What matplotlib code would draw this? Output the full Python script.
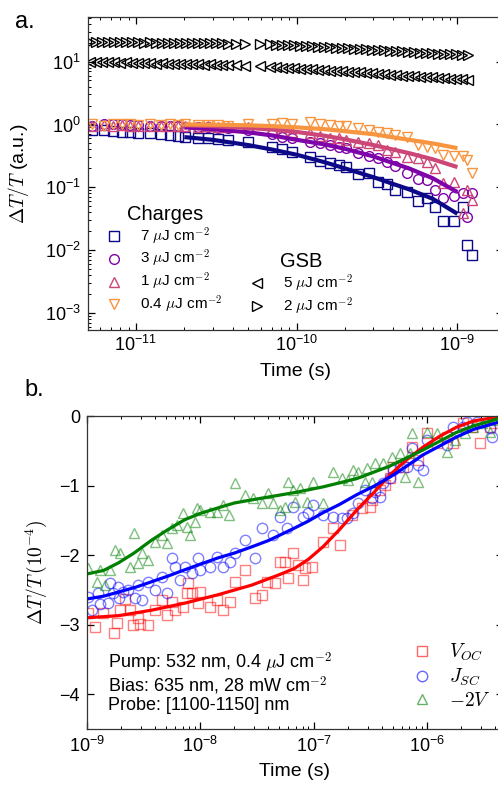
import matplotlib
matplotlib.use("Agg")
import matplotlib.pyplot as plt
from matplotlib.lines import Line2D
from matplotlib.ticker import NullFormatter

plt.rcParams['font.family'] = ['Liberation Sans', 'DejaVu Sans']
plt.rcParams['mathtext.fontset'] = 'custom'
plt.rcParams['mathtext.rm'] = 'Liberation Sans'
plt.rcParams['mathtext.it'] = 'Liberation Sans:italic'
plt.rcParams['mathtext.bf'] = 'Liberation Sans:bold'

# ---------------- panel a: charges (common time grid) ----------------
t_ch = [5.3e-12, 6.3e-12, 7.2e-12, 8.2e-12, 9.2e-12, 1.03e-11, 1.22e-11, 1.43e-11,
        1.63e-11, 1.83e-11, 2.02e-11, 2.43e-11, 2.81e-11, 3.24e-11, 3.74e-11, 4.98e-11,
        7.0e-11, 8.1e-11, 9.4e-11, 1.21e-10, 1.40e-10, 1.61e-10, 1.83e-10, 2.03e-10,
        2.41e-10, 2.82e-10, 3.21e-10, 3.65e-10, 4.09e-10, 4.86e-10, 5.69e-10, 6.47e-10,
        7.26e-10, 8.13e-10, 9.5e-10, 1.08e-9, 1.15e-9, 1.23e-9]
ch_7 = [0.81, 0.81, 0.785, 0.77, 0.76, 0.73, 0.73, 0.70, 0.68, 0.66, 0.63, 0.61, 0.61,
        0.59, 0.56, 0.53, 0.44, 0.41, 0.365, 0.30, 0.26, 0.24, 0.225, 0.21, 0.163, 0.17,
        0.12, 0.113, 0.09, 0.084, 0.06, 0.068, 0.049, 0.029, 0.029, 0.049, 0.012, 0.0083]
ch_3 = [0.93, 1.0, 1.02, 1.0, 0.98, 0.97, 0.96, 0.95, 0.94, 0.93, 0.92, 0.91, 0.90,
        0.88, 0.87, 0.82, 0.70, 0.64, 0.62, 0.525, 0.51, 0.47, 0.44, 0.43, 0.35, 0.31,
        0.29, 0.25, 0.22, 0.17, 0.135, 0.13, 0.09, 0.068, 0.073, 0.08, 0.034, 0.08]
ch_1 = [0.95, 0.97, 0.96, 0.98, 0.95, 0.96, 0.95, 0.94, 0.95, 0.93, 0.94, 0.92, 0.93,
        0.91, 0.92, 0.90, 0.85, 0.80, 0.77, 0.72, 0.66, 0.62, 0.60, 0.565, 0.525, 0.51,
        0.47, 0.39, 0.36, 0.30, 0.29, 0.25, 0.20, 0.117, 0.12, 0.039, 0.09, 0.063]
ch_04 = [1.0, 0.95, 1.02, 1.0, 1.03, 0.98, 1.0, 0.98, 1.0, 0.97, 1.0, 0.98, 0.97,
         0.98, 0.96, 1.0, 1.02, 1.05, 1.0, 1.1, 1.02, 0.98, 0.95, 0.93, 0.87, 0.81,
         0.76, 0.72, 0.68, 0.63, 0.47, 0.44, 0.42, 0.33, 0.31, 0.32, 0.27, 0.17]

# fits
t_fit_a = [2.0e-11, 3.0e-11, 5.0e-11, 7.0e-11, 1.0e-10, 1.5e-10, 2.0e-10, 3.0e-10,
           5.0e-10, 7.0e-10, 1.0e-9]
fit_7 = [0.63, 0.57, 0.47, 0.40, 0.33, 0.25, 0.20, 0.145, 0.093, 0.066, 0.038]
fit_3 = [0.90, 0.84, 0.75, 0.67, 0.57, 0.48, 0.41, 0.31, 0.20, 0.14, 0.084]
fit_1 = [0.97, 0.94, 0.88, 0.83, 0.76, 0.66, 0.58, 0.47, 0.35, 0.28, 0.21]
fit_04 = [1.00, 0.99, 0.97, 0.94, 0.90, 0.84, 0.78, 0.70, 0.57, 0.50, 0.42]

# GSB
t_gsb = [5.18e-12, 5.64e-12, 6.14e-12, 6.69e-12, 7.29e-12, 7.95e-12, 8.66e-12, 9.44e-12,
         1.03e-11, 1.12e-11, 1.22e-11, 1.33e-11, 1.45e-11, 1.58e-11, 1.72e-11, 1.88e-11,
         2.05e-11, 2.23e-11, 2.43e-11, 2.65e-11, 2.89e-11, 3.15e-11, 3.43e-11, 3.74e-11,
         4.19e-11, 4.77e-11, 5.91e-11,
         6.83e-11, 7.44e-11, 8.11e-11, 8.83e-11, 9.62e-11, 1.05e-10, 1.14e-10, 1.24e-10,
         1.36e-10, 1.48e-10, 1.61e-10, 1.76e-10, 1.91e-10, 2.08e-10, 2.27e-10, 2.48e-10,
         2.70e-10, 2.94e-10, 3.21e-10, 3.49e-10, 3.81e-10, 4.15e-10, 4.52e-10, 4.93e-10,
         5.37e-10, 5.85e-10, 6.38e-10, 6.95e-10, 7.57e-10, 8.25e-10, 8.99e-10, 9.80e-10,
         1.07e-9, 1.16e-9]
gsb_2 = [20.5, 20.4, 20.5, 20.3, 20.4, 20.2, 20.3, 20.1, 20.2, 20.0, 20.1, 19.9, 20.0,
         19.8, 19.9, 19.7, 19.8, 19.6, 19.7, 19.5, 19.6, 19.4, 19.5, 19.3,
         19.3, 19.2, 19.0,
         18.8, 18.6, 18.4, 18.2, 18.0, 17.8, 17.6, 17.4, 17.2, 17.0, 16.8, 16.6, 16.4,
         16.2, 16.0, 15.8, 15.6, 15.4, 15.2, 15.0, 14.8, 14.6, 14.5, 14.3, 14.1, 13.9,
         13.7, 13.6, 13.4, 13.3, 13.1, 13.0, 12.9, 12.7]
gsb_5 = [9.9, 9.8, 9.9, 9.7, 9.8, 9.6, 9.7, 9.5, 9.6, 9.4, 9.5, 9.3, 9.4, 9.2, 9.3,
         9.1, 9.2, 9.0, 9.1, 8.9, 9.0, 8.9, 8.9, 8.8,
         8.7, 8.6, 8.5,
         8.3, 8.2, 8.0, 7.9, 7.8, 7.7, 7.6, 7.5, 7.4, 7.3, 7.2, 7.1, 7.0, 6.9, 6.8, 6.7,
         6.6, 6.5, 6.4, 6.3, 6.2, 6.1, 6.0, 5.9, 5.8, 5.75, 5.65, 5.6, 5.5, 5.45, 5.35,
         5.3, 5.2, 5.1]

# ---------------- panel b ----------------
r_t = [1.02e-9, 1.18e-9, 1.38e-9, 1.72e-9, 1.84e-9, 1.95e-9, 2.17e-9, 2.40e-9, 2.55e-9,
       2.82e-9, 2.93e-9, 3.45e-9, 3.98e-9, 4.59e-9, 5.08e-9, 5.62e-9, 5.98e-9, 7.03e-9,
       7.63e-9, 7.79e-9, 8.43e-9, 9.53e-9, 9.93e-9, 1.22e-8, 1.40e-8, 1.58e-8, 1.82e-8,
       2.02e-8, 2.48e-8, 3.03e-8, 3.51e-8, 3.86e-8, 4.53e-8, 5.05e-8, 5.60e-8, 5.94e-8,
       6.58e-8, 7.27e-8, 8.06e-8, 8.41e-8, 9.7e-8, 1.21e-7, 1.48e-7, 1.71e-7, 2.18e-7,
       2.68e-7, 3.16e-7, 3.28e-7, 3.85e-7, 4.26e-7, 4.70e-7, 5.02e-7, 6.16e-7, 7.39e-7,
       8.34e-7, 1.00e-6, 1.23e-6, 1.50e-6, 1.70e-6, 2.09e-6, 2.51e-6, 2.95e-6, 3.60e-6,
       3.95e-6]
r_v = [-2.83, -3.03, -2.83, -3.12, -2.97, -2.79, -2.63, -2.79, -3.00, -2.90, -2.99,
       -3.00, -2.79, -2.64, -2.86, -2.67, -2.79, -2.74, -2.54, -2.40, -2.54, -2.69,
       -2.53, -2.74, -2.64, -2.79, -2.67, -2.39, -2.21, -2.61, -2.57, -2.39, -2.40,
       -2.10, -2.10, -2.33, -1.97, -2.14, -2.36, -2.18, -2.17, -1.81, -1.61, -1.85,
       -1.42, -1.32, -1.31, -1.21, -1.06, -0.99, -0.89, -0.73, -0.73, -0.45, -0.63,
       -0.24, -0.39, -0.30, -0.39, -0.10, -0.16, -0.39, -0.16, -0.10]

b_t = [1.02e-9, 1.11e-9, 1.25e-9, 1.30e-9, 1.53e-9, 1.60e-9, 1.70e-9, 1.88e-9, 1.93e-9,
       2.08e-9, 2.30e-9, 2.65e-9, 2.82e-9, 3.06e-9, 3.45e-9, 3.98e-9, 4.59e-9, 5.08e-9,
       5.62e-9, 5.98e-9, 6.62e-9, 7.33e-9, 8.43e-9, 9.53e-9, 9.93e-9, 1.22e-8, 1.40e-8,
       1.58e-8, 1.82e-8, 2.02e-8, 2.48e-8, 3.03e-8, 3.51e-8, 4.38e-8, 5.05e-8, 5.82e-8,
       6.58e-8, 8.06e-8, 8.93e-8, 9.89e-8, 1.21e-7, 1.48e-7, 1.78e-7, 1.97e-7, 2.23e-7,
       2.47e-7, 2.84e-7, 3.28e-7, 3.48e-7, 3.85e-7, 4.10e-7, 4.70e-7, 5.02e-7, 5.79e-7,
       6.68e-7, 7.39e-7, 8.34e-7, 9.24e-7, 1.00e-6, 1.50e-6, 1.70e-6, 2.09e-6, 2.26e-6,
       2.77e-6, 3.60e-6, 3.75e-6]
b_v = [-2.60, -2.79, -2.54, -2.70, -2.69, -2.40, -2.54, -2.46, -2.61, -2.53, -2.50,
       -2.61, -2.43, -2.64, -2.39, -2.50, -2.31, -2.54, -2.04, -2.17, -2.36, -2.17,
       -2.26, -2.04, -2.21, -2.17, -2.03, -2.17, -2.10, -1.97, -1.78, -2.04, -1.61,
       -1.71, -1.45, -1.61, -1.31, -1.45, -1.39, -1.28, -1.42, -1.45, -1.47, -1.47,
       -1.39, -1.25, -1.06, -1.18, -1.09, -1.16, -0.96, -0.89, -0.78, -0.73, -0.73,
       -0.46, -0.70, -0.78, -0.34, -0.42, -0.16, -0.16, -0.09, -0.09, -0.17, -0.30]

g_t = [1.02e-9, 1.22e-9, 1.30e-9, 1.44e-9, 1.60e-9, 1.77e-9, 1.95e-9, 2.40e-9, 2.60e-9,
       2.82e-9, 3.06e-9, 3.45e-9, 3.98e-9, 4.59e-9, 5.08e-9, 5.62e-9, 6.22e-9, 7.03e-9,
       7.63e-9, 8.11e-9, 8.98e-9, 9.35e-9, 9.93e-9, 1.22e-8, 1.40e-8, 1.58e-8, 1.79e-8,
       2.02e-8, 2.48e-8, 2.92e-8, 3.51e-8, 3.96e-8, 4.38e-8, 5.05e-8, 5.60e-8, 5.94e-8,
       6.58e-8, 6.9e-8, 7.59e-8, 8.75e-8, 9.89e-8, 1.21e-7, 1.48e-7, 1.78e-7, 2.01e-7,
       2.23e-7, 2.47e-7, 2.84e-7, 2.96e-7, 3.28e-7, 3.48e-7, 4.10e-7, 4.92e-7, 5.79e-7,
       6.41e-7, 7.10e-7, 7.39e-7, 8.34e-7, 1.00e-6, 1.23e-6, 1.50e-6, 1.77e-6, 2.17e-6,
       2.55e-6, 3.06e-6, 3.60e-6, 3.83e-6]
g_v = [-2.18, -2.39, -2.21, -2.43, -2.21, -1.93, -1.97, -2.17, -1.68, -2.11, -1.97,
       -2.07, -1.81, -1.71, -1.82, -1.61, -1.57, -1.39, -1.59, -1.71, -1.52, -1.32,
       -1.35, -1.38, -1.38, -1.28, -1.42, -0.96, -1.14, -1.18, -1.25, -1.11, -1.25,
       -1.35, -1.31, -0.95, -1.06, -1.24, -1.03, -1.24, -0.95, -1.25, -0.80, -0.89,
       -0.92, -0.78, -0.80, -0.95, -0.75, -0.95, -0.68, -0.68, -0.59, -0.53, -0.88,
       -0.53, -0.24, -0.95, -0.23, -0.24, -0.52, -0.34, -0.24, -0.16, -0.10, -0.23,
       -0.06]

rf_t = [1.0e-9, 1.9e-9, 3.75e-9, 7.3e-9, 1.43e-8, 2.85e-8, 5.0e-8, 6.8e-8, 9.0e-8,
        1.21e-7, 1.7e-7, 2.41e-7, 3.4e-7, 4.7e-7, 6.5e-7, 9.2e-7, 1.3e-6, 1.83e-6,
        2.6e-6, 4.7e-6]
rf_v = [-2.90, -2.87, -2.79, -2.69, -2.57, -2.43, -2.28, -2.19, -2.06, -1.88, -1.63,
        -1.35, -1.10, -0.85, -0.64, -0.45, -0.29, -0.16, -0.07, 0.0]
bf_t = [1.0e-9, 1.4e-9, 1.9e-9, 2.7e-9, 3.75e-9, 5.2e-9, 7.3e-9, 1.0e-8, 1.43e-8,
        2.0e-8, 2.85e-8, 4.0e-8, 6.8e-8, 9.0e-8, 1.21e-7, 1.7e-7, 2.41e-7, 3.4e-7,
        4.7e-7, 6.5e-7, 9.2e-7, 1.3e-6, 1.83e-6, 2.6e-6, 4.7e-6]
bf_v = [-2.63, -2.59, -2.53, -2.46, -2.38, -2.30, -2.21, -2.13, -2.04, -1.97, -1.88,
        -1.79, -1.61, -1.51, -1.39, -1.27, -1.13, -1.01, -0.88, -0.73, -0.56, -0.43,
        -0.30, -0.19, -0.07]
gf_t = [1.0e-9, 1.4e-9, 1.9e-9, 2.6e-9, 3.75e-9, 5.1e-9, 7.3e-9, 1.0e-8, 1.5e-8,
        2.0e-8, 3.5e-8, 6.8e-8, 1.2e-7, 2.4e-7, 4.7e-7, 9.2e-7, 1.8e-6, 2.6e-6, 4.7e-6]
gf_v = [-2.27, -2.22, -2.11, -1.97, -1.78, -1.64, -1.49, -1.40, -1.31, -1.25, -1.18,
        -1.10, -1.02, -0.90, -0.72, -0.49, -0.24, -0.14, -0.02]

navy, purple, pink, orange = '#0d0887', '#7e03a8', '#cc4778', '#f89540'

fig = plt.figure(figsize=(4.98, 7.85), dpi=100)

# ---- panel a ----
ax1 = fig.add_axes([0.1767, 0.5796, 0.8333, 0.3987])
ax1.set_xscale('log')
ax1.set_yscale('log')
kw = dict(ls='none', mfc='none', ms=7, mew=1.0)
h7, = ax1.plot(t_ch, ch_7, marker='s', mec=navy, **kw)
h3, = ax1.plot(t_ch, ch_3, marker='o', mec=purple, **kw)
h1, = ax1.plot(t_ch, ch_1, marker='^', mec=pink, **kw)
h04, = ax1.plot(t_ch, ch_04, marker='v', mec=orange, **kw)
h5, = ax1.plot(t_gsb, gsb_5, marker='<', mec='black', **kw)
h2, = ax1.plot(t_gsb, gsb_2, marker='>', mec='black', **kw)
for vals, c in [(fit_7, navy), (fit_3, purple), (fit_1, pink), (fit_04, orange)]:
    ax1.plot(t_fit_a, vals, color=c, lw=3, solid_capstyle='butt')
ax1.set_xlim(5.03e-12, 1.92e-9)
ax1.set_ylim(5.4e-4, 51)
ax1.set_xlabel('Time (s)', fontsize=14, labelpad=6)
yl = ax1.set_ylabel(r'$\Delta T/T$ (a.u.)', fontsize=14)
yl.set_math_fontfamily('cm')
ax1.yaxis.set_label_coords(-0.138, 0.5)

lab = [r'7 $\mu$J cm$^{-2}$', r'3 $\mu$J cm$^{-2}$', r'1 $\mu$J cm$^{-2}$',
       r'0.4 $\mu$J cm$^{-2}$']
leg1 = ax1.legend([h7, h3, h1, h04], lab, title='Charges', loc='upper left',
                  bbox_to_anchor=(0.045, 0.399), frameon=False, fontsize=11,
                  title_fontsize=14.5, handlelength=1.0, handletextpad=1.2,
                  labelspacing=0.1, borderpad=0, borderaxespad=0)
ax1.add_artist(leg1)
leg2 = ax1.legend([h5, h2], [r'5 $\mu$J cm$^{-2}$', r'2 $\mu$J cm$^{-2}$'], title='GSB',
                  loc='upper left', bbox_to_anchor=(0.39, 0.248), frameon=False,
                  fontsize=11, title_fontsize=14.5, handlelength=1.0,
                  handletextpad=1.2, labelspacing=0.1, borderpad=0, borderaxespad=0)
for lg in (leg1, leg2):
    for t in lg.get_texts():
        t.set_math_fontfamily('cm')

# ---- panel b ----
ax2 = fig.add_axes([0.1747, 0.0713, 0.8353, 0.3987])
ax2.set_xscale('log')
mk = dict(ls='none', mfc='none', ms=7.5, mew=1.0, alpha=0.5)
hr, = ax2.plot(r_t, r_v, marker='s', mec='red', **mk)
hb, = ax2.plot(b_t, b_v, marker='o', mec='blue', **mk)
hg, = ax2.plot(g_t, g_v, marker='^', mec='green', **mk)
ax2.plot(rf_t, rf_v, color='red', lw=2.3)
ax2.plot(bf_t, bf_v, color='blue', lw=2.3)
ax2.plot(gf_t, gf_v, color='green', lw=2.3)
ax2.set_xlim(1e-9, 4.7e-6)
ax2.set_ylim(-4.5, 0)
ax2.set_yticks([0, -1, -2, -3, -4])
ax2.set_xlabel('Time (s)', fontsize=14, labelpad=5)
yl2 = ax2.set_ylabel(r'$\Delta T/T\,(10^{-4})$', fontsize=14)
yl2.set_math_fontfamily('cm')
ax2.yaxis.set_label_coords(-0.092, 0.5)

hr_l = Line2D([], [], ls='none', marker='s', mfc='none', mec='red', ms=7.5, mew=1.0, alpha=0.6)
hb_l = Line2D([], [], ls='none', marker='o', mfc='none', mec='blue', ms=7.5, mew=1.0, alpha=0.6)
hg_l = Line2D([], [], ls='none', marker='^', mfc='none', mec='green', ms=7.5, mew=1.0, alpha=0.6)
leg3 = ax2.legend([hr_l, hb_l, hg_l], [r'$V_{OC}$', r'$J_{SC}$', r'$-2V$'],
                  loc='upper left', bbox_to_anchor=(0.781, 0.28), frameon=False,
                  fontsize=14, handlelength=1.0, handletextpad=0.9, labelspacing=0.2,
                  borderpad=0, borderaxespad=0)
for t in leg3.get_texts():
    t.set_math_fontfamily('cm')

txt = ax2.text(0.05, 0.252, 'Pump: 532 nm, 0.4 $\\mu$J cm$^{-2}$\n'
               'Bias: 635 nm, 28 mW cm$^{-2}$\n'
               'Probe: [1100-1150] nm', transform=ax2.transAxes, va='top',
               ha='left', fontsize=13, linespacing=0.98)
txt.set_math_fontfamily('cm')

for ax in (ax1, ax2):
    ax.tick_params(which='both', direction='in', top=True, right=True, labelsize=13)
    ax.tick_params(which='major', length=5, width=0.9, pad=5)
    ax.tick_params(which='minor', length=2.5, width=0.7)
    ax.xaxis.set_minor_formatter(NullFormatter())
    for s in ax.spines.values():
        s.set_linewidth(0.9)
        s.set_color('#333333')
ax1.yaxis.set_minor_formatter(NullFormatter())
ax1.tick_params(axis='x', which='major', pad=3.5)
ax2.tick_params(axis='y', which='minor', left=False, right=False)

fig.text(0.030, 0.9643, 'a.', fontsize=17, va='baseline')
fig.text(0.050, 0.4955, 'b.', fontsize=17, va='baseline')

fig.savefig('out.png', dpi=100)
